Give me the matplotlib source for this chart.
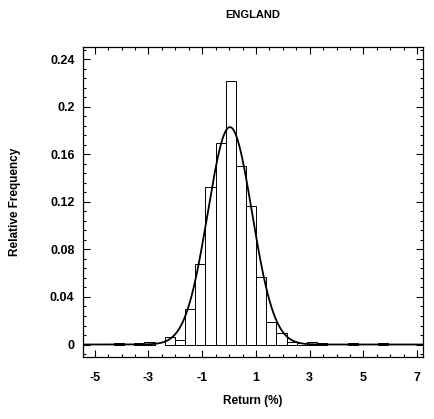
import matplotlib
matplotlib.use("Agg")
import matplotlib.pyplot as plt
import matplotlib.ticker as ticker
import numpy as np

plt.rcParams["font.family"] = ["Liberation Sans", "DejaVu Sans"]
plt.rcParams["font.weight"] = "bold"
plt.rcParams["axes.unicode_minus"] = False

# histogram: bin centres and relative frequencies
bin_width = 0.378
bin_centers = [-4.096, -3.340, -2.962, -2.206, -1.828, -1.450, -1.072, -0.694,
               -0.316, 0.062, 0.440, 0.818, 1.196, 1.574, 1.952, 2.330,
               2.708, 3.086, 3.464, 4.598, 5.732]
rel_freq = [0.001, 0.001, 0.0023, 0.0065, 0.0038, 0.030, 0.068, 0.133,
            0.170, 0.222, 0.150, 0.117, 0.0565, 0.0186, 0.010, 0.002,
            0.001, 0.0025, 0.001, 0.001, 0.001]

# fitted normal curve
fit_mean = 0.03
fit_sigma = 0.824

x_ticks = [-5, -3, -1, 1, 3, 5, 7]
y_ticks = [0, 0.04, 0.08, 0.12, 0.16, 0.2, 0.24]
y_tick_labels = ["0", "0.04", "0.08", "0.12", "0.16", "0.2", "0.24"]

fig = plt.figure(figsize=(4.34, 4.19), dpi=100)
ax = fig.add_axes([0.191, 0.148, 0.784, 0.740])

ax.bar(bin_centers, rel_freq, width=bin_width, facecolor="white",
       edgecolor="black", linewidth=0.7)

xs = np.linspace(-5.44, 7.2, 600)
ys = bin_width * np.exp(-0.5 * ((xs - fit_mean) / fit_sigma) ** 2) / (fit_sigma * np.sqrt(2 * np.pi))
ax.plot(xs, ys, color="black", linewidth=1.3)

ax.set_xlim(-5.44, 7.22)
ax.set_ylim(-0.0105, 0.2505)

ax.set_xticks(x_ticks)
ax.set_yticks(y_ticks)
ax.set_yticklabels(y_tick_labels)
ax.xaxis.set_minor_locator(ticker.MultipleLocator(0.5))
ax.yaxis.set_minor_locator(ticker.MultipleLocator(0.008))
ax.tick_params(which="both", direction="in", top=True, right=True,
               labelsize=9, width=0.8)
ax.tick_params(axis="x", which="major", length=5, pad=10.5)
ax.tick_params(axis="y", which="major", length=5, pad=6)
ax.tick_params(which="minor", length=2.5)
for lab in ax.get_xticklabels() + ax.get_yticklabels():
    lab.set_fontweight("bold")
for sp in ax.spines.values():
    sp.set_linewidth(0.9)

ax.set_xlabel("Return (%)", fontsize=8.5, fontweight="bold", labelpad=8)
ax.set_ylabel("Relative Frequency", fontsize=8.5, fontweight="bold", labelpad=21)
ax.set_title("ENGLAND", fontsize=8, fontweight="bold", pad=21)

plt.savefig("out.png", dpi=100)
